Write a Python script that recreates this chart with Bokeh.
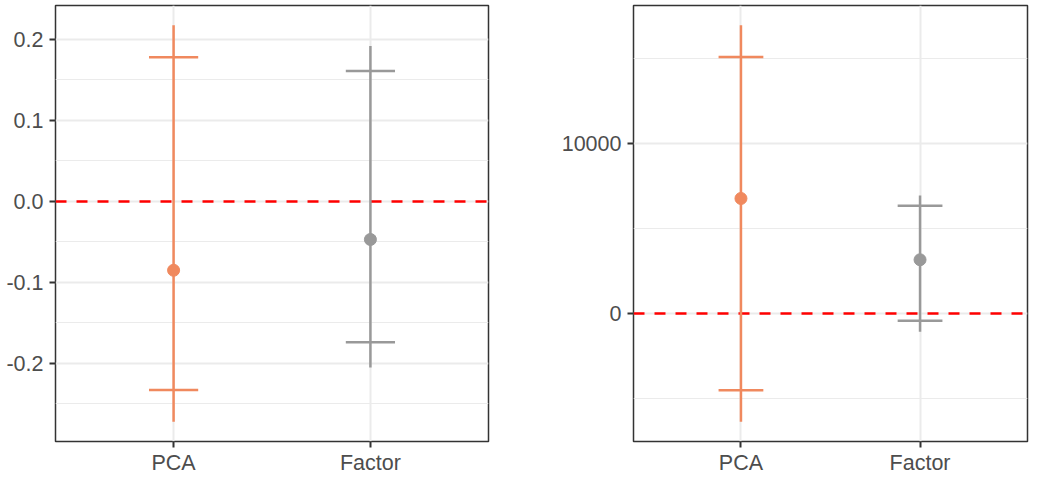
from bokeh.plotting import figure
from bokeh.layouts import row
from bokeh.models import (ColumnDataSource, FactorRange, Range1d, FixedTicker, Span)
from bokeh.transform import dodge
from bokeh.embed import file_html
from bokeh.resources import INLINE

# ---------------- data ----------------
categories = ["PCA", "Factor"]
colors = ["#F0895E", "#999999"]

left_est = [-0.085, -0.047]
left_lo_outer = [-0.272, -0.205]
left_hi_outer = [0.2175, 0.192]
left_lo_inner = [-0.233, -0.174]
left_hi_inner = [0.178, 0.161]
left_ticks = [-0.2, -0.1, 0.0, 0.1, 0.2]
left_tick_labels = ["-0.2", "-0.1", "0.0", "0.1", "0.2"]
left_minor = [-0.25, -0.15, -0.05, 0.05, 0.15]

right_est = [6750, 3150]
right_lo_outer = [-6360, -1075]
right_hi_outer = [16920, 6920]
right_lo_inner = [-4510, -436]
right_hi_inner = [15054, 6316]
right_ticks = [0, 10000]
right_tick_labels = ["0", "10000"]
right_minor = [-5000, 5000, 15000]

FONT = "Liberation Sans"
TOTAL_H = 477


def make_panel(est, lo_o, hi_o, lo_i, hi_i, ticks, tick_labels, minor,
               width, frame_left, frame_right):
    lo = min(lo_o)
    hi = max(hi_o)
    pad = (hi - lo) * 0.05
    src = ColumnDataSource(dict(x=categories, est=est, lo_o=lo_o, hi_o=hi_o,
                                lo_i=lo_i, hi_i=hi_i, color=colors))
    xr = FactorRange(factors=categories, range_padding=0.1,
                     range_padding_units="absolute")
    p = figure(width=width, height=TOTAL_H, x_range=xr,
               y_range=Range1d(lo - pad, hi + pad),
               output_backend="svg", toolbar_location=None,
               min_border_left=frame_left, min_border_right=frame_right,
               min_border_top=5, min_border_bottom=33)
    p.background_fill_color = "white"
    p.border_fill_color = "white"
    p.outline_line_color = "#333333"
    p.outline_line_width = 1.5

    # grid
    p.yaxis.ticker = FixedTicker(ticks=ticks, minor_ticks=minor)
    p.yaxis.major_label_overrides = {t: l for t, l in zip(ticks, tick_labels)}
    p.ygrid.grid_line_color = "#EBEBEB"
    p.ygrid.grid_line_width = 2
    p.ygrid.minor_grid_line_color = "#EBEBEB"
    p.ygrid.minor_grid_line_width = 1
    p.xgrid.grid_line_color = "#EBEBEB"
    p.xgrid.grid_line_width = 2

    for ax in (p.xaxis, p.yaxis):
        ax.axis_line_color = None
        ax.major_tick_line_color = "#333333"
        ax.major_tick_line_width = 2
        ax.major_tick_out = 6
        ax.major_tick_in = 0
        ax.minor_tick_line_color = None
        ax.major_label_text_font = FONT
        ax.major_label_text_font_size = "21.5px"
        ax.major_label_text_color = "#4D4D4D"
    p.yaxis.major_label_standoff = 6
    p.xaxis.major_label_standoff = 3

    # zero reference line
    zero = Span(location=0, dimension="width", line_color="#FF0000",
                line_width=2.5, line_dash="11 10", level="underlay")
    p.add_layout(zero)

    # outer interval lines
    p.segment(x0="x", x1="x", y0="lo_o", y1="hi_o", source=src,
              line_color="color", line_width=2.5)
    # inner interval crossbars
    p.segment(x0=dodge("x", -0.125, range=xr), x1=dodge("x", 0.125, range=xr),
              y0="hi_i", y1="hi_i", source=src, line_color="color", line_width=2.5)
    p.segment(x0=dodge("x", -0.125, range=xr), x1=dodge("x", 0.125, range=xr),
              y0="lo_i", y1="lo_i", source=src, line_color="color", line_width=2.5)
    # estimates
    p.scatter(x="x", y="est", source=src, size=12, fill_color="color",
              line_color="color")
    return p


p1 = make_panel(left_est, left_lo_outer, left_hi_outer, left_lo_inner,
                left_hi_inner, left_ticks, left_tick_labels, left_minor,
                width=548, frame_left=55, frame_right=60)
p2 = make_panel(right_est, right_lo_outer, right_hi_outer, right_lo_inner,
                right_hi_inner, right_ticks, right_tick_labels, right_minor,
                width=481, frame_left=85, frame_right=2)

layout = row(p1, p2, spacing=0)
open("out.html", "w").write(file_html(layout, INLINE))
